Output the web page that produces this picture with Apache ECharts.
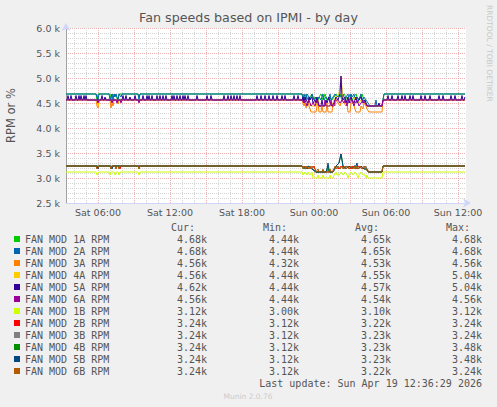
<!DOCTYPE html>
<html>
<head>
<meta charset="utf-8">
<script src="https://cdn.jsdelivr.net/npm/echarts@6/dist/echarts.min.js"></script>
<style>
html,body{margin:0;padding:0;background:#f0f0f0;}
#c{width:497px;height:407px;}
</style>
</head>
<body>
<div id="c"></div>
<script>
// x unit: 5-minute slot; slot 0 = Sat 03:20, slot 400 = Sun 12:40
const labelSlots = [32, 104, 176, 248, 320, 392];
const labelTexts = ['Sat 06:00', 'Sat 12:00', 'Sat 18:00', 'Sun 00:00', 'Sun 06:00', 'Sun 12:00'];

const fanNames = ['FAN MOD 1A RPM','FAN MOD 2A RPM','FAN MOD 3A RPM','FAN MOD 4A RPM','FAN MOD 5A RPM','FAN MOD 6A RPM',
                  'FAN MOD 1B RPM','FAN MOD 2B RPM','FAN MOD 3B RPM','FAN MOD 4B RPM','FAN MOD 5B RPM','FAN MOD 6B RPM'];
const curVals = ['4.68k','4.68k','4.56k','4.56k','4.62k','4.56k','3.12k','3.24k','3.24k','3.24k','3.24k','3.24k'];
const minVals = ['4.44k','4.44k','4.32k','4.44k','4.44k','4.44k','3.00k','3.12k','3.12k','3.12k','3.12k','3.12k'];
const avgVals = ['4.65k','4.65k','4.53k','4.55k','4.57k','4.54k','3.10k','3.22k','3.23k','3.23k','3.23k','3.22k'];
const maxVals = ['4.68k','4.68k','4.56k','5.04k','5.04k','4.56k','3.12k','3.24k','3.24k','3.48k','3.48k','3.24k'];

const fan1A = [[0,4680],[30,4680],[31,4560],[32,4680],[44,4680],[45,4560],[46,4680],[48,4620],[49,4680],[52,4560],[53,4680],[72,4680],[73,4620],[74,4680],
  [236,4680],[238,4560],[240,4680],[242,4560],[244,4620],[246,4680],[248,4560],[249,4620],[251,4500],[253,4620],[255,4680],[257,4560],[259,4680],[261,4560],[263,4620],[266,4560],[268,4620],[270,4680],[272,4620],[274,4680],[276,4560],[278,4680],[280,4620],[282,4560],[284,4680],[286,4560],[288,4620],[290,4680],[292,4560],[294,4620],[296,4680],[298,4560],[300,4500],[302,4440],[316,4440],[318,4680],[399,4680]];
const fan2A = [[0,4680],[30,4680],[31,4620],[32,4560],[33,4680],[43,4680],[44,4560],[45,4620],[46,4680],[47,4560],[48,4680],[49,4620],[50,4680],[52,4560],[53,4680],[55,4620],[56,4680],[72,4680],[73,4560],[74,4680],
  [236,4680],[237,4560],[238,4680],[239,4620],[240,4560],[241,4680],[243,4620],[244,4560],[246,4680],[248,4560],[250,4620],[251,4560],[253,4620],[255,4560],[257,4680],[258,4560],[260,4620],[262,4560],[264,4680],[265,4560],[267,4620],[269,4680],[271,4620],[273,4680],[275,4620],[277,4680],[279,4560],[280,4620],[282,4680],[283,4560],[285,4680],[286,4620],[288,4680],[289,4560],[291,4620],[293,4560],[295,4680],[296,4560],[298,4620],[300,4560],[302,4500],[304,4440],[309,4440],[310,4560],[311,4440],[316,4440],[318,4680],[399,4680]];
const fan3A = [[0,4560],[30,4560],[31,4440],[32,4400],[33,4500],[34,4560],[44,4560],[45,4400],[46,4500],[47,4440],[48,4560],[51,4560],[52,4480],[53,4560],
  [236,4560],[238,4440],[239,4500],[240,4400],[242,4500],[243,4440],[245,4320],[250,4320],[251,4440],[252,4500],[253,4320],[255,4320],[256,4440],[257,4320],[260,4320],[261,4500],[262,4320],[266,4320],[267,4500],[269,4440],[270,4560],[272,4500],[274,4440],[276,4560],[278,4500],[280,4440],[281,4500],[282,4320],[284,4320],[285,4500],[287,4500],[288,4440],[290,4320],[294,4320],[295,4440],[297,4380],[298,4500],[300,4440],[301,4380],[303,4320],[316,4320],[317,4560],[399,4560]];
const fan4A = [[0,4560],[31,4560],[32,4440],[33,4560],[45,4560],[46,4500],[47,4560],
  [236,4560],[238,4500],[240,4560],[245,4440],[250,4440],[252,4560],[254,4440],[266,4440],[268,4560],[270,4620],[273,4680],[275,5040],[277,4560],[279,4620],[281,4500],[283,4620],[285,4560],[287,4500],[289,4620],[291,4560],[293,4500],[295,4560],[299,4500],[301,4440],[316,4440],[317,4560],[399,4560]];
const fan5A = [[0,4560],[1,4560],[2,4650],[3,4560],[4,4560],[5,4650],[6,4560],[9,4560],[10,4650],[11,4560],[12,4560],[13,4650],[14,4560],[15,4650],[16,4560],[17,4560],[18,4650],[19,4560],[20,4650],[21,4560],
  [35,4560],[36,4650],[37,4560],[38,4560],[39,4620],[40,4560],
  [56,4560],[57,4650],[58,4560],[59,4560],[60,4650],[61,4560],[63,4560],[64,4620],[65,4560],
  [68,4560],[69,4650],[70,4560],[76,4560],[77,4650],[78,4560],[80,4560],[81,4650],[82,4560],[83,4650],[84,4560],[85,4560],[86,4650],[87,4560],
  [90,4560],[91,4650],[92,4560],[93,4560],[94,4650],[95,4560],[96,4560],[97,4650],[98,4560],[99,4560],[100,4650],[101,4560],
  [105,4560],[106,4650],[107,4560],[108,4650],[109,4560],[110,4560],[111,4650],[112,4560],[113,4560],[114,4650],[115,4560],[116,4560],[117,4650],[118,4560],[119,4650],[120,4560],[121,4560],[122,4650],[123,4560],
  [130,4560],[131,4650],[132,4560],[140,4560],[141,4650],[142,4560],[144,4560],[145,4650],[146,4560],
  [157,4560],[158,4650],[159,4560],[161,4560],[162,4650],[163,4560],[164,4560],[165,4650],[166,4560],[167,4560],[168,4650],[169,4560],[170,4560],[171,4650],[172,4560],[173,4560],[174,4650],[175,4560],
  [190,4560],[191,4650],[192,4560],[194,4560],[195,4650],[196,4560],[198,4560],[199,4650],[200,4560],[202,4560],[203,4650],[204,4560],[206,4560],[207,4650],[208,4560],[210,4560],[211,4650],[212,4560],[215,4560],[216,4650],[217,4560],[218,4560],[219,4650],[220,4560],
  [227,4560],[228,4650],[229,4560],[231,4560],[232,4650],[233,4560],
  [236,4560],[237,4620],[238,4500],[239,4620],[240,4560],[242,4500],[243,4620],[244,4560],[246,4620],[247,4500],[249,4560],[250,4500],[251,4620],[253,4440],[255,4440],[256,4560],[257,4440],[259,4440],[260,4560],[261,4500],[263,4620],[264,4500],[266,4440],[268,4500],[270,4620],[272,4560],[274,4680],[275,5040],[276,4620],[277,4560],[279,4620],[280,4500],[282,4620],[283,4500],[285,4620],[286,4560],[288,4500],[290,4620],[291,4500],[293,4560],[295,4620],[297,4500],[299,4560],[301,4440],[312,4440],[313,4500],[314,4440],[316,4440],[317,4560],
  [321,4560],[322,4650],[323,4560],[325,4560],[326,4650],[327,4560],[331,4560],[332,4650],[333,4560],[335,4560],[336,4650],[337,4560],[338,4560],[339,4650],[340,4560],[343,4560],[344,4650],[345,4560],[346,4560],[347,4650],[348,4560],[354,4560],[355,4650],[356,4560],[358,4560],[359,4650],[360,4560],[363,4560],[364,4650],[365,4560],[372,4560],[373,4650],[374,4560],[376,4560],[377,4650],[378,4560],[384,4560],[385,4650],[386,4560],[388,4560],[389,4650],[390,4560],[395,4560],[396,4650],[397,4560],[398,4560],[399,4620]];
const fan6A = [[0,4560],[31,4560],[32,4500],[33,4560],[45,4560],[46,4500],[47,4560],[50,4560],[51,4500],[52,4560],[54,4560],[55,4500],[56,4560],[72,4560],[73,4500],[74,4560],
  [236,4560],[238,4500],[239,4560],[241,4440],[243,4560],[245,4440],[247,4500],[249,4440],[251,4560],[253,4440],[258,4440],[259,4560],[260,4440],[264,4440],[265,4560],[266,4440],[268,4440],[269,4560],[272,4560],[274,4500],[276,4560],[278,4500],[279,4560],[281,4440],[282,4560],[284,4500],[286,4560],[288,4440],[289,4500],[291,4560],[293,4440],[295,4500],[297,4560],[299,4500],[301,4440],[316,4440],[317,4560],[399,4560]];
const fan1B = [[0,3120],[30,3120],[31,3060],[32,3100],[33,3120],[43,3120],[44,3060],[45,3120],[48,3120],[49,3060],[50,3120],[52,3120],[53,3060],[54,3120],[72,3120],[73,3060],[74,3120],
  [236,3120],[237,3060],[239,3120],[241,3060],[242,3120],[244,3060],[246,3120],[247,3000],[251,3000],[252,3060],[253,3000],[256,3000],[257,3060],[258,3000],[263,3000],[264,3060],[265,3000],[267,3000],[268,3060],[270,3120],[271,3060],[273,3060],[275,3120],[277,3060],[279,3120],[281,3060],[282,3000],[283,3060],[285,3120],[287,3060],[289,3120],[291,3060],[292,3000],[293,3060],[295,3120],[297,3060],[299,3060],[300,3000],[301,3060],[302,3000],[316,3000],[317,3120],[399,3120]];
const fan2B = [[0,3240],[31,3240],[32,3180],[33,3240],[44,3240],[45,3180],[46,3240],[53,3240],[54,3180],[55,3240],
  [236,3240],[238,3180],[239,3240],[242,3180],[244,3240],[246,3180],[248,3240],[250,3120],[266,3120],[268,3180],[270,3240],[273,3180],[275,3240],[278,3180],[280,3240],[284,3180],[286,3240],[290,3180],[292,3240],[297,3180],[299,3240],[301,3180],[303,3120],[316,3120],[317,3240],[399,3240]];
const fan3B = [[0,3240],[30,3240],[31,3180],[32,3240],[49,3240],[50,3180],[51,3240],
  [236,3240],[239,3180],[240,3240],[243,3180],[245,3240],[247,3180],[249,3120],[261,3120],[262,3180],[263,3120],[267,3120],[269,3180],[271,3240],[274,3180],[276,3240],[279,3180],[281,3240],[283,3180],[285,3240],[288,3180],[290,3240],[293,3180],[295,3240],[298,3180],[300,3240],[302,3120],[316,3120],[317,3240],[399,3240]];
const fan4B = [[0,3240],[44,3240],[45,3180],[46,3240],[72,3240],[73,3180],[74,3240],
  [236,3240],[240,3180],[242,3240],[250,3120],[260,3120],[261,3180],[262,3240],[263,3120],[267,3120],[270,3240],[273,3300],[275,3480],[277,3240],[280,3180],[283,3240],[286,3180],[288,3240],[292,3180],[295,3240],[298,3180],[301,3180],[302,3120],[316,3120],[317,3240],[399,3240]];
const fan5B = [[0,3240],[31,3240],[32,3180],[33,3240],[45,3240],[46,3180],[47,3240],
  [236,3240],[240,3180],[242,3240],[250,3120],[260,3120],[261,3180],[262,3300],[263,3180],[264,3120],[267,3120],[270,3240],[273,3300],[275,3480],[277,3240],[280,3180],[283,3240],[286,3180],[288,3240],[290,3240],[291,3300],[292,3180],[295,3240],[298,3180],[300,3180],[302,3120],[316,3120],[317,3240],[399,3240]];
const fan6B = [[0,3240],[30,3240],[31,3180],[32,3200],[33,3240],[44,3240],[45,3180],[46,3240],[49,3240],[50,3180],[51,3240],[52,3240],[53,3180],[54,3240],[72,3240],[73,3180],[74,3240],
  [236,3240],[237,3180],[238,3240],[240,3180],[241,3240],[243,3180],[244,3240],[245,3180],[247,3240],[249,3180],[250,3120],[252,3180],[253,3120],[256,3120],[257,3180],[258,3120],[263,3120],[264,3180],[265,3120],[267,3120],[268,3180],[269,3240],[271,3180],[272,3240],[274,3180],[276,3240],[277,3180],[279,3240],[280,3180],[282,3240],[283,3180],[285,3240],[286,3180],[288,3240],[289,3180],[291,3240],[292,3180],[294,3240],[296,3180],[298,3240],[300,3180],[302,3120],[316,3120],[317,3240],[399,3240]];

const fanData = [fan1A, fan2A, fan3A, fan4A, fan5A, fan6A, fan1B, fan2B, fan3B, fan4B, fan5B, fan6B];
const fanColors = ['#00cc00','#0066b3','#ff8000','#ffcc00','#330099','#990099','#ccff00','#ff0000','#808080','#008f00','#00487d','#b35a00'];

// grid line positions (slots): hourly minor, 3-hourly major
const hourSlots = [];
for (let s = 8; s <= 400; s += 12) hourSlots.push(s);
const majorSlots = [];
for (let s = 32; s <= 400; s += 36) majorSlots.push(s);

const chart = echarts.init(document.getElementById('c'), null, {renderer: 'svg'});
const FONT = 'DejaVu Sans';
const MONO = 'DejaVu Sans Mono';
const TXT = '#555555';

const xBase = {type: 'value', min: 0, max: 400, gridIndex: 0, position: 'bottom', offset: 0};

const option = {
  animation: false,
  backgroundColor: '#f0f0f0',
  title: {
    text: 'Fan speeds based on IPMI - by day',
    left: 'center', top: 11, padding: 0,
    textStyle: {fontFamily: FONT, fontSize: 12.7, fontWeight: 'normal', color: TXT}
  },
  grid: {left: 66, top: 28, width: 400, height: 175, show: true, backgroundColor: '#ffffff', borderWidth: 0,
         containLabel: false, outerBoundsMode: 'none'},
  xAxis: [
    Object.assign({}, xBase, {
      axisLine: {show: true, lineStyle: {color: '#cfd6f8', width: 1}, symbol: ['none', 'arrow'], symbolSize: [7, 8], symbolOffset: [0, 5]},
      axisTick: {show: false}, axisLabel: {show: false}, splitLine: {show: false}
    }),
    Object.assign({}, xBase, {
      axisLine: {show: false},
      axisTick: {show: false, customValues: hourSlots},
      axisLabel: {show: false},
      splitLine: {show: true, lineStyle: {color: '#d4d4d4', width: 1, type: [1, 1]}}
    }),
    Object.assign({}, xBase, {
      axisLine: {show: false},
      axisTick: {show: false, customValues: majorSlots},
      axisLabel: {
        show: true, customValues: labelSlots, margin: 4,
        fontFamily: FONT, fontSize: 9.5, color: TXT,
        formatter: v => labelTexts[labelSlots.indexOf(Math.round(v))] || ''
      },
      splitLine: {show: true, lineStyle: {color: '#eeb0b0', width: 1, type: [1, 1]}}
    })
  ],
  yAxis: [
    {
      type: 'value', min: 2500, max: 6000, interval: 500,
      name: 'RPM or %', nameLocation: 'middle', nameGap: 49, nameRotate: 90,
      nameTextStyle: {fontFamily: FONT, fontSize: 11.5, color: TXT},
      axisLine: {show: true, lineStyle: {color: '#cfd6f8', width: 1}, symbol: ['none', 'arrow'], symbolSize: [7, 8], symbolOffset: [0, 5]},
      axisTick: {show: false},
      axisLabel: {margin: 6, fontFamily: FONT, fontSize: 9.5, color: TXT,
        formatter: v => (v / 1000).toFixed(1) + ' k'},
      splitLine: {show: true, lineStyle: {color: '#eeb0b0', width: 1, type: [1, 1]}},
      minorTick: {show: false, splitNumber: 5},
      minorSplitLine: {show: true, lineStyle: {color: '#d4d4d4', width: 1, type: [1, 1]}}
    },
    {
      type: 'value', min: 2500, max: 6000, position: 'right',
      axisLine: {show: true, lineStyle: {color: '#a0a0a0', width: 1}},
      axisTick: {show: false}, axisLabel: {show: false}, splitLine: {show: false}
    }
  ],
  legend: {
    orient: 'vertical', left: 14, top: 233, padding: 0,
    itemWidth: 6, itemHeight: 6, itemGap: 0, icon: 'rect',
    selectedMode: false,
    data: fanNames,
    textStyle: {
      fontFamily: MONO, fontSize: 10, color: TXT, lineHeight: 12,
      rich: {
        n: {fontFamily: MONO, fontSize: 10, color: TXT, width: 141, lineHeight: 12},
        c: {fontFamily: MONO, fontSize: 10, color: TXT, width: 41, align: 'right', lineHeight: 12},
        m: {fontFamily: MONO, fontSize: 10, color: TXT, width: 92, align: 'right', lineHeight: 12},
        a: {fontFamily: MONO, fontSize: 10, color: TXT, width: 92, align: 'right', lineHeight: 12},
        x: {fontFamily: MONO, fontSize: 10, color: TXT, width: 91, align: 'right', lineHeight: 12}
      }
    },
    formatter: name => {
      const i = fanNames.indexOf(name);
      return '{n|' + name + '}{c|' + curVals[i] + '}{m|' + minVals[i] + '}{a|' + avgVals[i] + '}{x|' + maxVals[i] + '}';
    }
  },
  graphic: [
    {type: 'text', x: 195, y: 227, style: {text: 'Cur:', fontFamily: MONO, fontSize: 10, fill: TXT, align: 'right', verticalAlign: 'middle'}},
    {type: 'text', x: 287, y: 227, style: {text: 'Min:', fontFamily: MONO, fontSize: 10, fill: TXT, align: 'right', verticalAlign: 'middle'}},
    {type: 'text', x: 379, y: 227, style: {text: 'Avg:', fontFamily: MONO, fontSize: 10, fill: TXT, align: 'right', verticalAlign: 'middle'}},
    {type: 'text', x: 470, y: 227, style: {text: 'Max:', fontFamily: MONO, fontSize: 10, fill: TXT, align: 'right', verticalAlign: 'middle'}},
    {type: 'text', x: 482, y: 383, style: {text: 'Last update: Sun Apr 19 12:36:29 2026', fontFamily: MONO, fontSize: 10, fill: TXT, align: 'right', verticalAlign: 'middle'}},
    {type: 'text', x: 248, y: 396, style: {text: 'Munin 2.0.76', fontFamily: FONT, fontSize: 7.5, fill: '#cccccc', align: 'center', verticalAlign: 'middle'}},
    {type: 'text', x: 489, y: 5, rotation: -Math.PI / 2, style: {text: 'RRDTOOL / TOBI OETIKER', fontFamily: FONT, fontSize: 7.5, fill: '#c8c8c8', align: 'left', verticalAlign: 'middle'}}
  ],
  series: fanNames.map((n, i) => ({
    name: n, type: 'line', xAxisIndex: 0, yAxisIndex: 0,
    data: fanData[i], showSymbol: false, symbol: 'none',
    lineStyle: {width: 1, color: fanColors[i]},
    itemStyle: {color: fanColors[i]},
    silent: true
  }))
};
chart.setOption(option);
</script>
</body>
</html>
